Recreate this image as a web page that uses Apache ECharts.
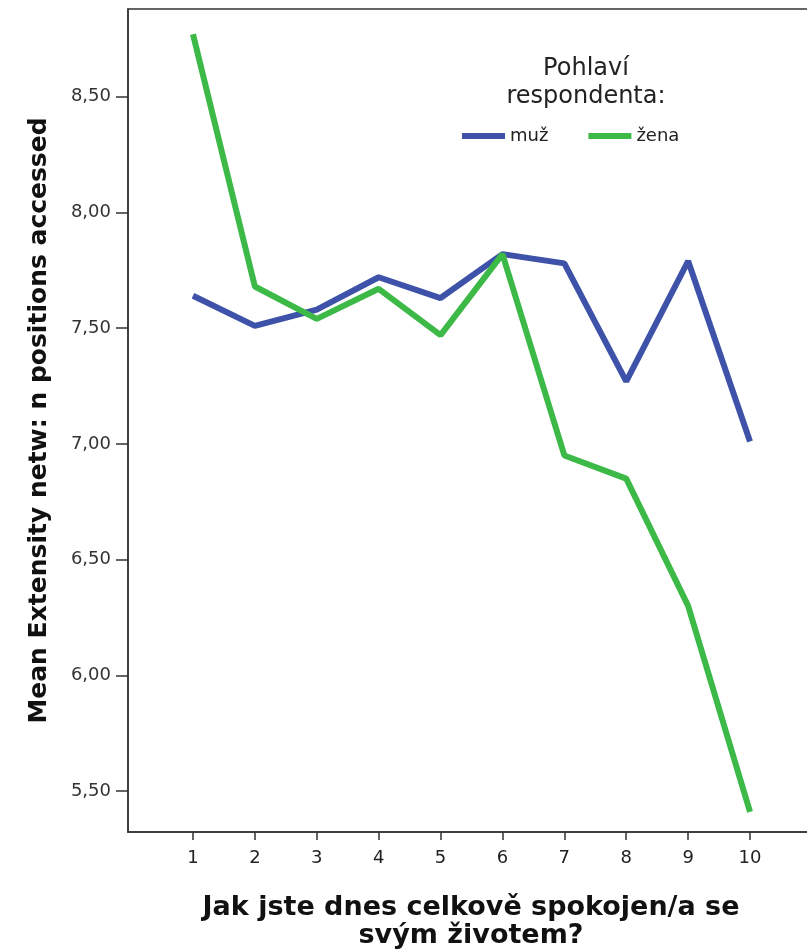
<!DOCTYPE html>
<html><head><meta charset="utf-8">
<script src="https://cdn.jsdelivr.net/npm/echarts@6/dist/echarts.min.js"></script>
<style>html,body{margin:0;padding:0;background:#fff}#c{width:807px;height:952px}</style>
</head><body><div id="c"></div>
<script>
const categories = [1, 2, 3, 4, 5, 6, 7, 8, 9, 10];
const muz  = [7.64, 7.51, 7.58, 7.72, 7.63, 7.82, 7.78, 7.27, 7.79, 7.01];
const zena = [8.77, 7.68, 7.54, 7.67, 7.47, 7.82, 6.95, 6.85, 6.30, 5.41];
const yTicks = [5.5, 6.0, 6.5, 7.0, 7.5, 8.0, 8.5];
const seriesNames = ['muž', 'žena'];
const legendTitle = 'Pohlaví\nrespondenta:';
const xTitle = 'Jak jste dnes celkově spokojen/a se\nsvým životem?';
const yTitle = 'Mean Extensity netw: n positions accessed';

const chart = echarts.init(document.getElementById('c'), null, {renderer: 'canvas'});
const FONT = 'DejaVu Sans';
chart.setOption({
  animation: false,
  backgroundColor: '#ffffff',
  textStyle: {fontFamily: FONT},
  grid: {left: 128, top: 9, width: 700, height: 823, show: true, borderColor: '#333', borderWidth: 1.5,
         containLabel: false, outerBoundsMode: 'none'},
  title: {
    text: legendTitle, left: 586, top: 55, padding: 0, textAlign: 'center',
    textStyle: {fontFamily: FONT, fontSize: 24, fontWeight: 'normal', color: '#222', lineHeight: 28}
  },
  legend: {
    data: seriesNames, left: 462, top: 127, padding: 0, icon: 'rect', itemWidth: 43, itemHeight: 6, itemGap: 40,
    textStyle: {fontFamily: FONT, fontSize: 18, color: '#222', padding: [0, 0, 0, 0]}
  },
  xAxis: {
    type: 'value', min: -0.05, max: 11.26,
    name: xTitle, nameLocation: 'middle', nameGap: 62,
    nameTextStyle: {fontFamily: FONT, fontSize: 27, fontWeight: 'bold', color: '#111', lineHeight: 28,
                    padding: [0, 14, 0, 0]},
    axisLine: {show: true, onZero: false, lineStyle: {color: '#333', width: 1.5}},
    axisTick: {show: true, length: 8, lineStyle: {color: '#333', width: 1.5}, customValues: categories},
    axisLabel: {customValues: categories, fontSize: 18, color: '#222', margin: 17},
    splitLine: {show: false}
  },
  yAxis: {
    type: 'value', min: 5.323, max: 8.879,
    name: yTitle, nameLocation: 'middle', nameGap: 76, nameRotate: 90,
    nameTextStyle: {fontFamily: FONT, fontSize: 25, fontWeight: 'bold', color: '#111'},
    axisLine: {show: true, onZero: false, lineStyle: {color: '#333', width: 1.5}},
    axisTick: {show: true, length: 12, lineStyle: {color: '#333', width: 1.5}, customValues: yTicks},
    axisLabel: {customValues: yTicks, fontSize: 18, color: '#333', margin: 17,
      formatter: v => v.toFixed(2).replace('.', ',')},
    splitLine: {show: false}
  },
  series: [
    {name: seriesNames[0], type: 'line', data: categories.map((c, i) => [c, muz[i]]),
     symbol: 'none', lineStyle: {color: '#3d52a8', width: 6}, itemStyle: {color: '#3d52a8'}},
    {name: seriesNames[1], type: 'line', data: categories.map((c, i) => [c, zena[i]]),
     symbol: 'none', lineStyle: {color: '#3cb947', width: 6}, itemStyle: {color: '#3cb947'}}
  ]
});
</script></body></html>
